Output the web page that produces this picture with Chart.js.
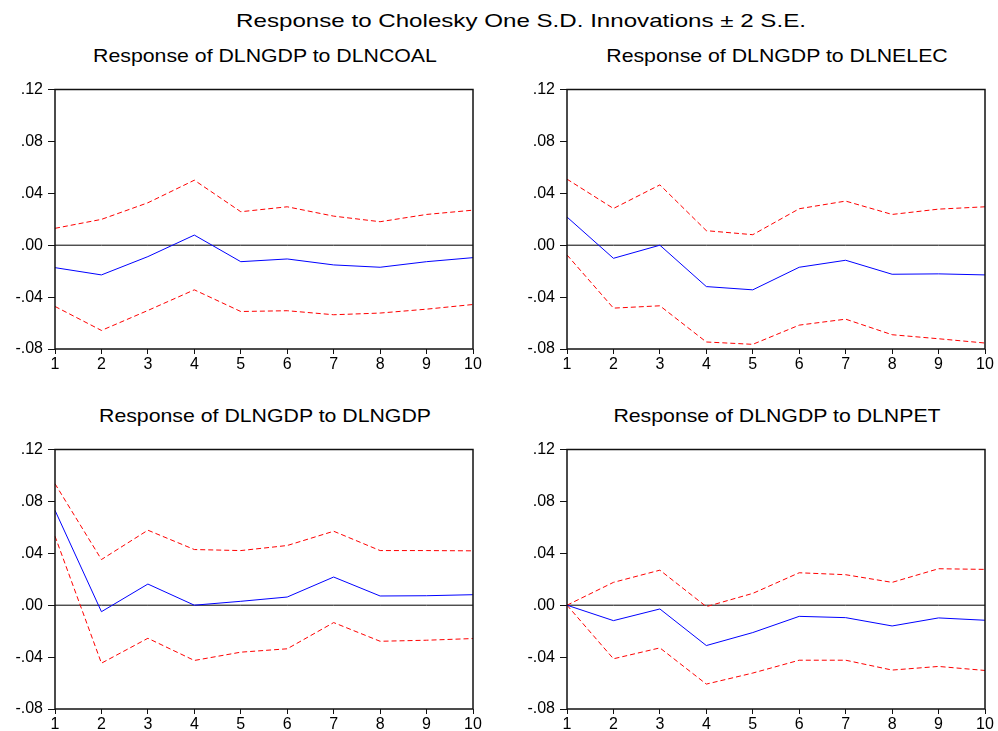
<!DOCTYPE html>
<html>
<head>
<meta charset="utf-8">
<script src="https://cdn.jsdelivr.net/npm/chart.js@4"></script>
<style>
    body { margin: 0; background: #fff; }
    #page { position: relative; width: 998px; height: 731px; overflow: hidden; background: #fff; }
    canvas { position: absolute; }
    .title {
        position: absolute;
        font-family: "Liberation Sans", Arial, sans-serif;
        font-size: 19px;
        line-height: 20px;
        color: #000;
        white-space: nowrap;
        transform: translateX(-50%) scaleX(1.12);
    }
    #main-title { transform: translateX(-50%) scaleX(1.27); }
</style>
</head>
<body>
<div id="page">
    <div class="title" id="main-title" style="left:521px; top:11px;">Response to Cholesky One S.D. Innovations ± 2 S.E.</div>
    <canvas id="chart-coal" width="498" height="300" style="left:0px; top:80px;"></canvas>
    <canvas id="chart-elec" width="488" height="300" style="left:510px; top:80px;"></canvas>
    <canvas id="chart-gdp" width="498" height="291" style="left:0px; top:440px;"></canvas>
    <canvas id="chart-pet" width="488" height="291" style="left:510px; top:440px;"></canvas>
</div>
<script>
const horizons = ["1", "2", "3", "4", "5", "6", "7", "8", "9", "10"];
const yTickValues = [-0.08, -0.04, 0, 0.04, 0.08, 0.12];
const yTickLabels = ["-.08", "-.04", ".00", ".04", ".08", ".12"];
const zeroLine = [0, 0, 0, 0, 0, 0, 0, 0, 0, 0];

const coalResp = [-0.0173, -0.0229, -0.0088, 0.0078, -0.0127, -0.0106, -0.0152, -0.0170, -0.0127, -0.0096];
const coalUpper = [0.0130, 0.0199, 0.0327, 0.0501, 0.0258, 0.0296, 0.0224, 0.0181, 0.0237, 0.0270];
const coalLower = [-0.0472, -0.0657, -0.0503, -0.0344, -0.0511, -0.0505, -0.0536, -0.0523, -0.0493, -0.0457];

const elecResp = [0.0217, -0.0101, 0.0000, -0.0319, -0.0344, -0.0170, -0.0116, -0.0224, -0.0221, -0.0229];
const elecUpper = [0.0509, 0.0283, 0.0465, 0.0112, 0.0081, 0.0281, 0.0340, 0.0237, 0.0278, 0.0296];
const elecLower = [-0.0075, -0.0485, -0.0467, -0.0746, -0.0764, -0.0616, -0.0570, -0.0690, -0.0721, -0.0754];

const gdpResp = [0.0731, -0.0050, 0.0163, 0.0000, 0.0030, 0.0063, 0.0217, 0.0071, 0.0073, 0.0081];
const gdpUpper = [0.0936, 0.0352, 0.0578, 0.0429, 0.0421, 0.0460, 0.0570, 0.0421, 0.0421, 0.0419];
const gdpLower = [0.0532, -0.0447, -0.0255, -0.0426, -0.0362, -0.0336, -0.0134, -0.0278, -0.0270, -0.0257];

const petResp = [0.0000, -0.0119, -0.0029, -0.0311, -0.0211, -0.0086, -0.0096, -0.0160, -0.0098, -0.0116];
const petUpper = [0.0000, 0.0176, 0.0270, -0.0011, 0.0091, 0.0250, 0.0235, 0.0176, 0.0281, 0.0276];
const petLower = [0.0000, -0.0413, -0.0329, -0.0608, -0.0523, -0.0424, -0.0424, -0.0500, -0.0472, -0.0503];

const tickFont = { family: '"Liberation Sans", Arial, sans-serif', size: 16 };

// box round the plot area, like the EViews frame
const framePlugin = {
    id: "frame",
    afterDraw(chart) {
        const a = chart.chartArea;
        const ctx = chart.ctx;
        ctx.save();
        ctx.strokeStyle = "#111";
        ctx.lineWidth = 1.5;
        ctx.strokeRect(a.left, a.top, a.right - a.left, a.bottom - a.top);
        ctx.restore();
    }
};

function addTitle(text, centerX, top) {
    const div = document.createElement("div");
    div.className = "title";
    div.textContent = text;
    div.style.left = centerX + "px";
    div.style.top = top + "px";
    document.getElementById("page").appendChild(div);
}

function makePanel(canvasId, resp, upper, lower, axisWidth, rightPad, axisHeight) {
    const ctx = document.getElementById(canvasId).getContext("2d");
    return new Chart(ctx, {
        type: "line",
        data: {
            labels: horizons,
            datasets: [
                { data: resp, borderColor: "rgb(0,0,255)", borderWidth: 1, order: 0 },
                { data: upper, borderColor: "rgb(255,0,0)", borderWidth: 1, borderDash: [5, 3], order: 1 },
                { data: lower, borderColor: "rgb(255,0,0)", borderWidth: 1, borderDash: [5, 3], order: 2 },
                { data: zeroLine, borderColor: "#000", borderWidth: 1, order: 3 }
            ]
        },
        options: {
            responsive: false,
            animation: false,
            devicePixelRatio: 1,
            layout: { padding: { top: 9.5, right: rightPad, left: 0, bottom: 0 } },
            elements: { point: { radius: 0, hoverRadius: 0 }, line: { tension: 0 } },
            plugins: { legend: { display: false }, tooltip: { enabled: false } },
            scales: {
                x: {
                    offset: false,
                    grid: { drawOnChartArea: false, tickLength: 5, color: "#111", offset: false },
                    border: { display: false },
                    ticks: { color: "#000", font: tickFont, padding: 1, maxRotation: 0, autoSkip: false },
                    afterFit(scale) { scale.height = axisHeight; }
                },
                y: {
                    min: -0.08,
                    max: 0.12,
                    grid: { drawOnChartArea: false, tickLength: 7, color: "#111" },
                    border: { display: false },
                    ticks: {
                        color: "#000",
                        font: tickFont,
                        padding: 5,
                        callback: function (value) {
                            const i = yTickValues.findIndex(v => Math.abs(v - value) < 1e-9);
                            return i >= 0 ? yTickLabels[i] : "";
                        }
                    },
                    afterBuildTicks(scale) {
                        scale.ticks = yTickValues.map(v => ({ value: v }));
                    },
                    afterFit(scale) {
                        scale.width = axisWidth;
                        scale.paddingTop = 0;
                        scale.paddingBottom = 0;
                    }
                }
            }
        },
        plugins: [framePlugin]
    });
}

addTitle("Response of DLNGDP to DLNCOAL", 265, 46);
addTitle("Response of DLNGDP to DLNELEC", 777, 46);
addTitle("Response of DLNGDP to DLNGDP", 265, 406);
addTitle("Response of DLNGDP to DLNPET", 777, 406);

makePanel("chart-coal", coalResp, coalUpper, coalLower, 55, 25, 31);
makePanel("chart-elec", elecResp, elecUpper, elecLower, 57, 13, 31);
makePanel("chart-gdp", gdpResp, gdpUpper, gdpLower, 55, 25, 22);
makePanel("chart-pet", petResp, petUpper, petLower, 57, 13, 22);
</script>
</body>
</html>
